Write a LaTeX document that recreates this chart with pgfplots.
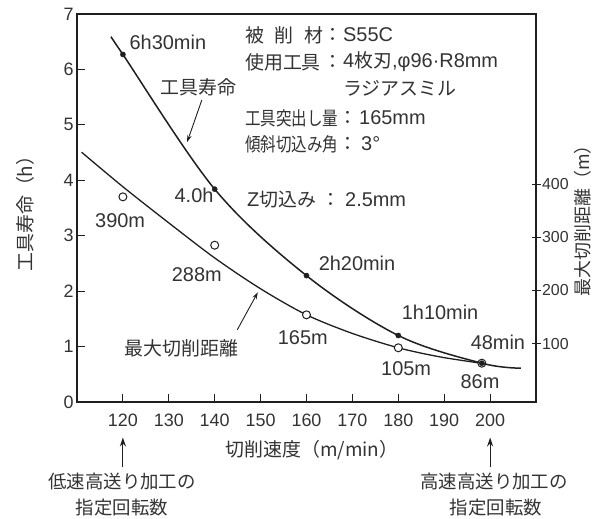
\documentclass[border=0pt]{standalone}
\usepackage{pgfplots}
\pgfplotsset{compat=1.18}
\usepackage{fontspec}
\setmainfont{Liberation Sans}
\newfontfamily\cjk{Noto Sans CJK JP}
\usetikzlibrary{arrows.meta}
\newcommand{\fs}[1]{\fontsize{#1}{#1}\selectfont}
\definecolor{ink}{gray}{0.12}
\definecolor{txt}{gray}{0.2}

\begin{document}
\begin{tikzpicture}
\useasboundingbox (0bp,0bp) rectangle (597bp,-519bp);

% right axis: maximum cutting distance (m)
\begin{axis}[
  at={(77bp,-402bp)}, anchor=south west,
  scale only axis, width=459bp, height=388bp,
  xmin=110, xmax=210, ymin=-10, ymax=720,
  axis x line=none, axis y line*=right,
  y axis line style={-, line width=1.1bp, ink},
  ytick={100,200,300,400},
  tick align=center, major tick length=9bp,
  every tick/.style={ink, line width=1bp},
  yticklabel style={font=\fs{16}, text=txt, xshift=-2bp},
  /pgf/number format/assume math mode=true,
  ylabel={最大切削距離（m）},
  ylabel style={at={(axis description cs:1.102,0.479)}, anchor=center, font=\cjk\fs{18}, text=txt},
  clip=false,
]
\addplot[ink, line width=1.3bp, smooth, tension=0.5] coordinates {
  (111,460) (120,395) (130,327) (140,261) (150,203) (160,154) (170,119) (180,92) (189,75) (198,63)
};
\addplot[only marks, mark=*, mark size=4bp, mark options={fill=white, draw=ink, line width=1bp}] coordinates {
  (120,376) (140,285) (160,154) (180,92) (198.2,63)
};
\end{axis}

% main axis: tool life (h)
\begin{axis}[
  at={(77bp,-402bp)}, anchor=south west,
  scale only axis, width=459bp, height=388bp,
  xmin=110, xmax=210, ymin=0, ymax=7,
  xtick={120,130,...,200}, ytick={0,1,...,7},
  tick pos=left, tick align=inside, major tick length=8bp,
  every tick/.style={ink, line width=1bp},
  axis line style={line width=1.2bp, ink},
  tick label style={font=\fs{18}, text=txt},
  xticklabel style={yshift=-8bp},
  /pgf/number format/assume math mode=true,
  xlabel={切削速度（m/min）},
  xlabel style={at={(axis description cs:0.512,-0.124)}, anchor=center, font=\cjk\fs{19}, text=txt},
  ylabel={工具寿命（h）},
  ylabel style={at={(axis description cs:-0.113,0.497)}, anchor=center, font=\cjk\fs{19}, text=txt},
  clip=false,
]
\addplot[ink, line width=1.5bp, smooth, tension=0.55] coordinates {
  (117.5,6.58) (120,6.27) (140,3.84) (160,2.28) (180,1.20) (198.2,0.70) (206.7,0.61)
};
\addplot[only marks, mark=*, mark size=2.6bp, mark options={fill=ink, draw=ink}] coordinates {
  (120,6.27) (140,3.84) (160,2.28) (180,1.20) (198.2,0.70)
};

% point labels
\begin{scope}[every node/.style={font=\fs{20}, text=txt, inner sep=0pt}]
\node at (axis cs:129.8,6.48) {6h30min};
\node at (axis cs:135.5,3.73) {4.0h};
\node at (axis cs:119.4,3.28) {390m};
\node at (axis cs:136.1,2.29) {288m};
\node at (axis cs:171.0,2.51) {2h20min};
\node at (axis cs:159.2,1.17) {165m};
\node at (axis cs:189.1,1.61) {1h10min};
\node at (axis cs:181.7,0.61) {105m};
\node at (axis cs:201.7,1.08) {48min};
\node at (axis cs:197.8,0.36) {86m};
\node[font=\cjk\fs{19}] at (axis cs:136.4,5.68) {工具寿命};
\node[font=\cjk\fs{19}] at (axis cs:132.7,0.97) {最大切削距離};
\end{scope}
\draw[ink, line width=0.9bp, -{Stealth[length=7bp,width=4.5bp]}] (axis cs:137.2,5.45) -- (axis cs:134.0,4.69);
\draw[ink, line width=0.9bp, -{Stealth[length=7bp,width=4.5bp]}] (axis cs:144.9,1.30) -- (axis cs:149.4,1.98);

% bottom arrows
\draw[ink, line width=1bp, -{Stealth[length=9bp,width=6bp]}] (axis cs:120,-1.18) -- (axis cs:120,-0.64);
\draw[ink, line width=1bp, -{Stealth[length=9bp,width=6bp]}] (axis cs:200,-1.18) -- (axis cs:200,-0.64);
\end{axis}

% condition text block
\begin{scope}[every node/.style={text=txt, inner sep=0pt}]
\node[anchor=west, font=\cjk\fs{19}] at (245bp,-35bp) {\makebox[78bp][s]{被\hfill 削\hfill 材}};
\node[font=\cjk\fs{19}] at (333bp,-35bp) {：};
\node[anchor=west, font=\fs{20}] at (343bp,-35bp) {S55C};

\node[anchor=west, font=\cjk\fs{19}] at (245bp,-62bp) {使用工具};
\node[font=\cjk\fs{19}] at (333bp,-62bp) {：};
\node[anchor=west, font=\fs{20}] at (343bp,-62bp) {4{\cjk\fs{19}枚刃},φ96·R8mm};

\node[anchor=west, font=\cjk\fs{19}] at (343bp,-88bp) {ラジアスミル};

\node[anchor=west, font=\cjk\fs{19}] at (245bp,-118bp) {\scalebox{0.82}[1]{工具突出し量}};
\node[font=\cjk\fs{19}] at (348bp,-118bp) {：};
\node[anchor=west, font=\fs{20}] at (359bp,-118bp) {165mm};

\node[anchor=west, font=\cjk\fs{19}] at (245bp,-144bp) {\scalebox{0.82}[1]{傾斜切込み角}};
\node[font=\cjk\fs{19}] at (348bp,-144bp) {：};
\node[anchor=west, font=\fs{20}] at (361bp,-144bp) {3°};

\node[anchor=west, font=\cjk\fs{19}] at (247bp,-200bp) {{\fontspec{Liberation Sans}\fs{20}Z}切込み};
\node[font=\cjk\fs{19}] at (331bp,-200bp) {：};
\node[anchor=west, font=\fs{20}] at (345bp,-200bp) {2.5mm};

% bottom annotations
\node[font=\cjk\fs{18.5}] at (122bp,-481bp) {低速高送り加工の};
\node[font=\cjk\fs{18.5}] at (122bp,-508bp) {指定回転数};
\node[font=\cjk\fs{18.5}] at (494bp,-481bp) {高速高送り加工の};
\node[font=\cjk\fs{18.5}] at (496bp,-508bp) {指定回転数};
\end{scope}
\end{tikzpicture}
\end{document}
